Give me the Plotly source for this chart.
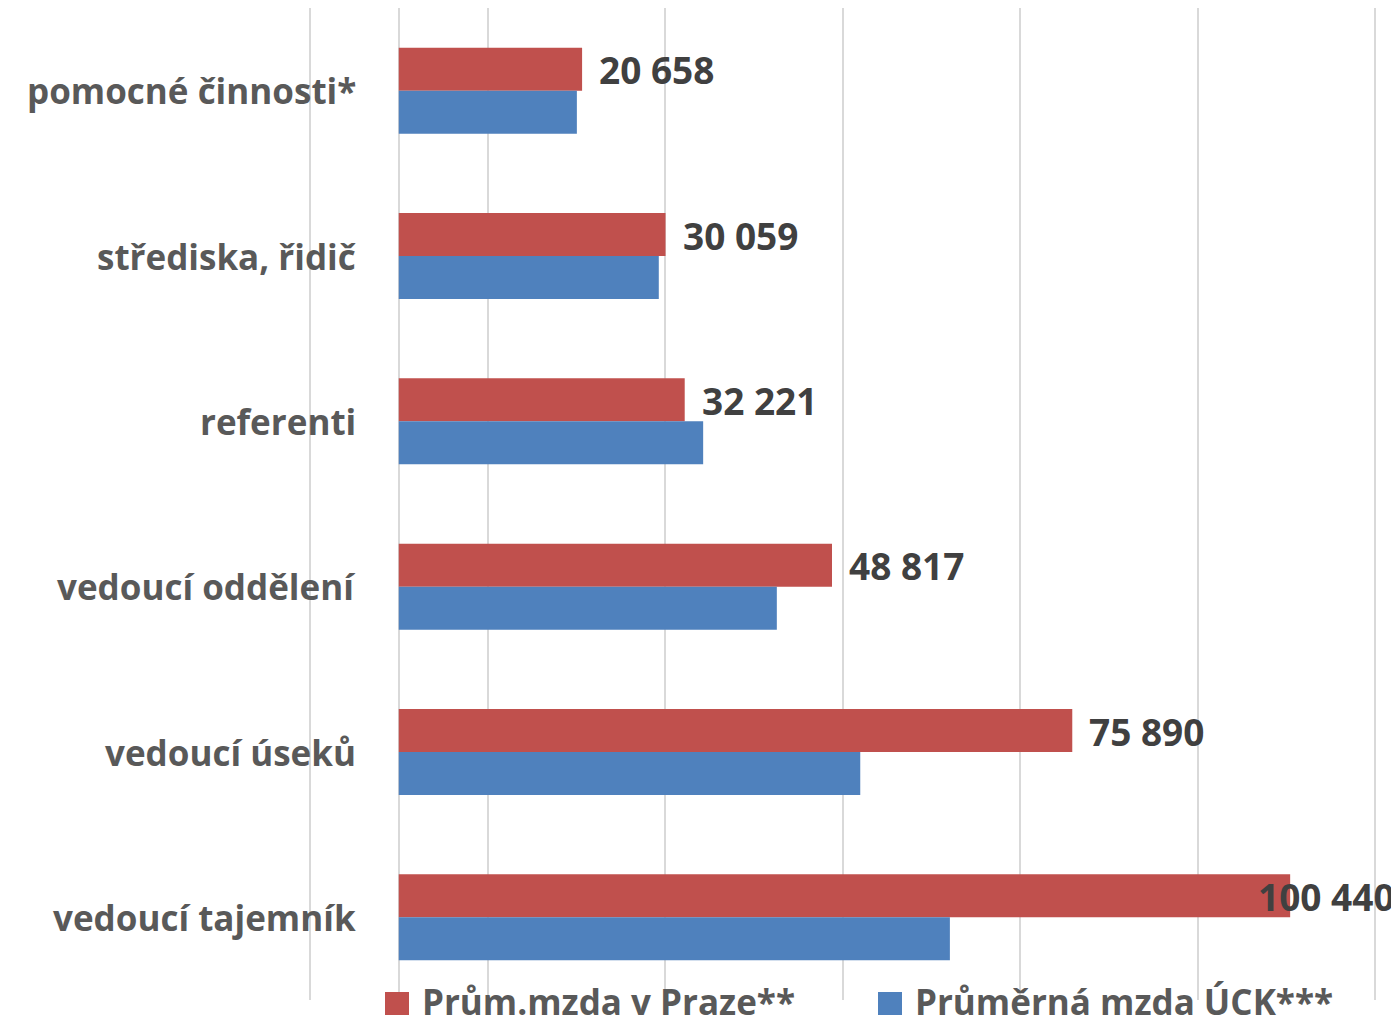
import plotly.graph_objects as go

categories = ["pomocné činnosti*", "střediska, řidič", "referenti",
              "vedoucí oddělení", "vedoucí úseků", "vedoucí tajemník"]
praha = [20658, 30059, 32221, 48817, 75890, 100440]
uck = [20070, 29300, 34300, 42600, 52000, 62100]
series_names = ["Prům.mzda v Praze**", "Průměrná mzda ÚCK***"]
colors = ["#C0504D", "#4F81BD"]

# page body has an 8px margin; figure is sized/positioned to compensate
OFF = 8
PAD = 4  # extra px on each side so edge gridlines are not clipped
X0, X1 = -10000, 110000
PLOT_L, PLOT_R = 310, 1375  # page px of X0 and X1
upp = (X1 - X0) / (PLOT_R - PLOT_L)  # units per pixel

W, H = 1399 - OFF, 1017 - OFF
ML = PLOT_L - PAD - OFF
MR = W - (PLOT_R + PAD - OFF)
MT, MB = 8 - OFF, 17
FONT = "Open Sans"

pw = W - ML - MR
ph = H - MT - MB
def px_x(p):
    return (p - OFF - ML) / pw
def px_y(p):
    return (H - MB - (p - OFF)) / ph

fig = go.Figure()
fig.add_trace(go.Bar(y=categories, x=praha, orientation="h", name=series_names[0],
                     marker=dict(color=colors[0], line=dict(width=0)), showlegend=False))
fig.add_trace(go.Bar(y=categories, x=uck, orientation="h", name=series_names[1],
                     marker=dict(color=colors[1], line=dict(width=0)), showlegend=False))

annotations = []
# category labels
for c in categories:
    annotations.append(dict(x=px_x(358), xref="paper", y=c, yref="y",
                            text=c, showarrow=False, xanchor="right", yanchor="middle",
                            font=dict(family=FONT, size=35, color="#595959", weight="bold")))
# data labels (red series)
for c, v in zip(categories, praha):
    label = f"{v:,}".replace(",", " ")
    shift = 15 if v < 95000 else -34
    annotations.append(dict(x=v, xref="x", y=c, yref="y", text=label, showarrow=False,
                            xanchor="left", yanchor="middle", xshift=shift, yshift=21,
                            font=dict(family=FONT, size=37, color="#404040", weight="bold")))

# manual legend
shapes = []
leg_items = [(385, 420), (878, 913)]
for (sx, tx), name, col in zip(leg_items, series_names, colors):
    shapes.append(dict(type="rect", xref="paper", yref="paper",
                       x0=px_x(sx), x1=px_x(sx + 24), y0=px_y(1015), y1=px_y(992),
                       fillcolor=col, line=dict(width=0), layer="above"))
    annotations.append(dict(x=px_x(tx), xref="paper", y=px_y(1001), yref="paper",
                            text=name, showarrow=False, xanchor="left", yanchor="middle",
                            font=dict(family=FONT, size=35, color="#595959", weight="bold")))

fig.update_layout(
    width=W, height=H,
    margin=dict(l=ML, r=MR, t=MT, b=MB, pad=0),
    paper_bgcolor="white", plot_bgcolor="white",
    barmode="group", bargap=0.48, bargroupgap=0,
    showlegend=False,
    xaxis=dict(range=[X0 - PAD * upp, X1 + PAD * upp], tick0=-10000, dtick=20000,
               showgrid=True, gridcolor="#d9d9d9", gridwidth=1.5, zeroline=True,
               zerolinecolor="#d9d9d9", zerolinewidth=1.5, showticklabels=False,
               ticks="", showline=False),
    yaxis=dict(autorange="reversed", showticklabels=False, ticks="", showgrid=False,
               zeroline=False, showline=False),
    annotations=annotations,
    shapes=shapes,
)

fig.write_html("out.html")
